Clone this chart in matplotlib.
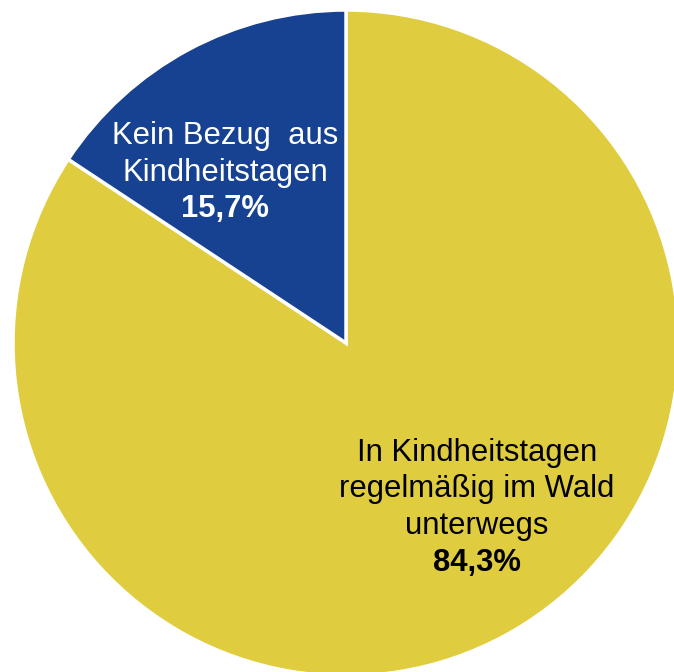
"""Pie chart: Bezug zum Wald in Kindheitstagen."""

import matplotlib

matplotlib.use("Agg")
from matplotlib import pyplot as plt

plt.rcParams["font.family"] = ["Liberation Sans", "DejaVu Sans"]

labels = ["In Kindheitstagen\nregelmäßig im Wald\nunterwegs", "Kein Bezug  aus\nKindheitstagen"]
shares = [84.3, 15.7]
colors = ["#E0CD3F", "#174292"]
text_colors = ["black", "white"]

W, H = 674, 672
CENTER = (346, H - 343)
RADIUS = 333
# label anchor points in pixels (x, y from top)
label_pos = [(477, 453), (225, 136)]
LINE_STEP = 36.5


def main() -> None:
    fig = plt.figure(figsize=(W / 100, H / 100), dpi=100)
    ax = fig.add_axes([0, 0, 1, 1])
    ax.set_xlim(0, W)
    ax.set_ylim(0, H)
    ax.set_aspect("equal")
    ax.axis("off")

    ax.pie(
        shares,
        colors=colors,
        startangle=90,
        counterclock=False,
        center=CENTER,
        radius=RADIUS,
        wedgeprops={"edgecolor": "white", "linewidth": 2.5},
        frame=True,
    )
    ax.set_xlim(0, W)
    ax.set_ylim(0, H)
    ax.axis("off")

    for label, share, (x, y), tc in zip(labels, shares, label_pos, text_colors):
        lines = label.split("\n")
        for i, line in enumerate(lines):
            ax.text(x, H - (y + i * LINE_STEP), line, ha="center", va="center",
                    fontsize=22.3, color=tc)
        pct = f"{share:.1f}%".replace(".", ",")
        ax.text(x, H - (y + len(lines) * LINE_STEP), pct, ha="center", va="center",
                fontsize=22.3, fontweight="bold", color=tc)

    fig.savefig("out.png", dpi=100)
    plt.close(fig)


if __name__ == "__main__":
    main()
